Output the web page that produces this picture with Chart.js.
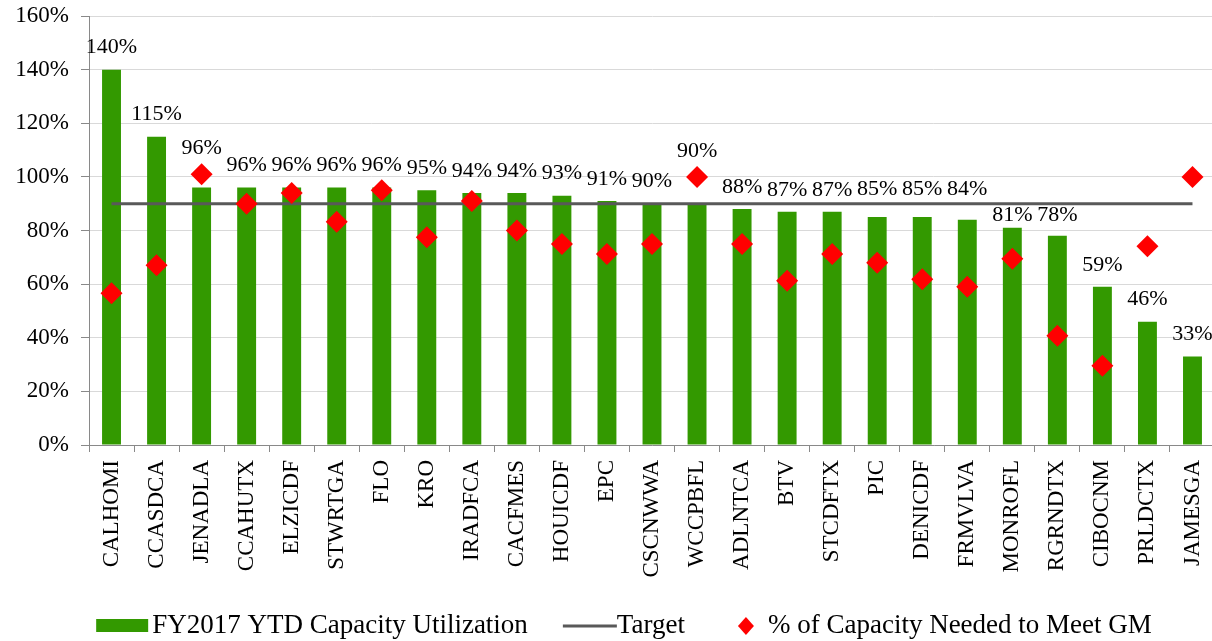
<!DOCTYPE html>
<html>
<head>
<meta charset="utf-8">
<script src="https://cdn.jsdelivr.net/npm/chart.js@4"></script>
<style>
  html, body { margin: 0; padding: 0; background: #fff; overflow: hidden; }
  canvas { display: block; }
</style>
</head>
<body>
<canvas id="capChart" width="1226" height="641"></canvas>
<script>
var sites = ['CALHOMI', 'CCASDCA', 'JENADLA', 'CCAHUTX', 'ELZICDF', 'STWRTGA', 'FLO', 'KRO',
    'IRADFCA', 'CACFMES', 'HOUICDF', 'EPC', 'CSCNWWA', 'WCCPBFL', 'ADLNTCA', 'BTV',
    'STCDFTX', 'PIC', 'DENICDF', 'FRMVLVA', 'MONROFL', 'RGRNDTX', 'CIBOCNM', 'PRLDCTX', 'JAMESGA'];
var utilization = [140, 115, 96, 96, 96, 96, 96, 95, 94, 94, 93, 91, 90, 90, 88, 87,
    87, 85, 85, 84, 81, 78, 59, 46, 33];
var neededForGM = [56.6, 67, 101, 90, 94, 83.3, 95, 77.5, 91, 80, 75, 71.2, 75, 100, 75, 61.3,
    71.2, 68, 61.8, 59, 69.5, 40.7, 29.6, 74.1, 100];
var targetValue = 90;
var targetLine = sites.map(function () { return targetValue; });
var yTicks = [0, 20, 40, 60, 80, 100, 120, 140, 160];

var serif = '"Liberation Serif", "Times New Roman", serif';
var green = '#339900';
var red = '#ff0000';
var axisGray = '#898989';

// value labels above the bars, nudged around the target line and diamonds
var barLabels = {
    id: 'barLabels',
    afterDatasetsDraw: function (chart) {
        var ctx = chart.ctx;
        var y = chart.scales.y;
        var bars = chart.getDatasetMeta(0).data;
        var diamonds = chart.getDatasetMeta(2).data;
        var yT = y.getPixelForValue(targetValue);
        ctx.save();
        ctx.font = '22px ' + serif;
        ctx.fillStyle = '#000';
        ctx.textAlign = 'center';
        ctx.textBaseline = 'middle';
        bars.forEach(function (bar, i) {
            var top = bar.y;
            var ly = top - 22;
            var dy = diamonds[i].y;
            if (dy < top && top - dy < 40) {
                ly = Math.min(ly, dy - 11 - 15);
            }
            if (Math.abs(ly - yT) < 12) {
                ly = (top - yT > 22) ? yT + 12 : yT - 14;
            }
            ctx.fillText(Math.round(utilization[i]) + '%', bar.x, ly);
        });
        ctx.restore();
    }
};

// legend drawn at the bottom of the canvas
var bottomLegend = {
    id: 'bottomLegend',
    afterDraw: function (chart) {
        var ctx = chart.ctx;
        var cy = 626;
        var names = ['FY2017 YTD Capacity Utilization', 'Target', '% of Capacity Needed to Meet GM'];
        ctx.save();
        ctx.font = '27px ' + serif;
        var w = names.map(function (n) { return ctx.measureText(n).width; });
        var total = (52 + 4 + w[0]) + 35 + (54 + w[1]) + 53 + (16 + 14 + w[2]);
        var x = 624 - total / 2;
        ctx.textBaseline = 'middle';

        ctx.fillStyle = green;
        ctx.fillRect(x, cy - 7, 52, 13);
        x += 56;
        ctx.fillStyle = '#000';
        ctx.fillText(names[0], x, cy);
        x += w[0] + 35;

        ctx.strokeStyle = '#595959';
        ctx.lineWidth = 3;
        ctx.beginPath();
        ctx.moveTo(x, cy);
        ctx.lineTo(x + 54, cy);
        ctx.stroke();
        x += 54;
        ctx.fillText(names[1], x, cy);
        x += w[1] + 53;

        ctx.fillStyle = red;
        ctx.beginPath();
        ctx.moveTo(x + 8, cy - 9);
        ctx.lineTo(x + 16, cy);
        ctx.lineTo(x + 8, cy + 9);
        ctx.lineTo(x, cy);
        ctx.closePath();
        ctx.fill();
        x += 30;
        ctx.fillStyle = '#000';
        ctx.fillText(names[2], x, cy);
        ctx.restore();
    }
};

new Chart(document.getElementById('capChart'), {
    type: 'bar',
    data: {
        labels: sites,
        datasets: [{
            label: 'FY2017 YTD Capacity Utilization',
            data: utilization,
            backgroundColor: green,
            categoryPercentage: 1,
            barPercentage: 0.42,
            order: 3
        }, {
            type: 'line',
            label: 'Target',
            data: targetLine,
            borderColor: '#595959',
            borderWidth: 3,
            pointRadius: 0,
            fill: false,
            order: 2
        }, {
            type: 'line',
            label: '% of Capacity Needed to Meet GM',
            data: neededForGM,
            showLine: false,
            pointStyle: 'rectRot',
            pointRadius: 11,
            pointBackgroundColor: red,
            pointBorderWidth: 0,
            order: 1
        }]
    },
    options: {
        responsive: false,
        animation: false,
        layout: { padding: { top: 16, left: 0, right: 0, bottom: 0 } },
        plugins: {
            legend: { display: false },
            tooltip: { enabled: false }
        },
        scales: {
            x: {
                offset: true,
                grid: {
                    offset: true,
                    drawOnChartArea: false,
                    drawTicks: true,
                    tickLength: 7,
                    tickColor: axisGray
                },
                border: { color: axisGray, width: 1 },
                ticks: {
                    autoSkip: false,
                    minRotation: 90,
                    maxRotation: 90,
                    padding: 8,
                    color: '#000',
                    font: { family: serif, size: 23 }
                },
                afterFit: function (scale) {
                    scale.height = 196;
                    scale.paddingLeft = 0;
                    scale.paddingRight = 0;
                }
            },
            y: {
                min: 0,
                max: 160,
                afterBuildTicks: function (scale) {
                    scale.ticks = yTicks.map(function (v) { return { value: v }; });
                },
                grid: {
                    color: '#d9d9d9',
                    tickColor: axisGray,
                    tickLength: 8
                },
                border: { color: axisGray, width: 1 },
                ticks: {
                    padding: 12,
                    color: '#000',
                    font: { family: serif, size: 23 },
                    callback: function (v) { return v + '%'; }
                },
                afterFit: function (scale) {
                    scale.width = 89;
                    scale.paddingTop = 0;
                    scale.paddingBottom = 0;
                }
            }
        }
    },
    plugins: [barLabels, bottomLegend]
});
</script>
</body>
</html>
